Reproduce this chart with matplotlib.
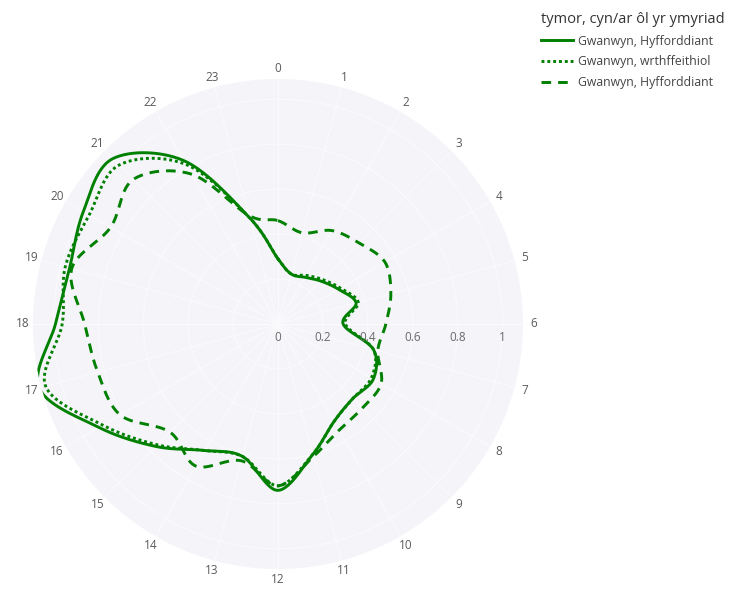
import numpy as np
import matplotlib.pyplot as plt

# hourly values per series (hour 0..23)
hours = list(range(24))
hour_labels = [str(h) for h in hours]
solid_vals = [0.29, 0.23, 0.24, 0.27, 0.31, 0.36, 0.29, 0.44, 0.49, 0.47, 0.50, 0.60,
              0.74, 0.61, 0.65, 0.77, 0.92, 1.10, 0.99, 0.96, 1.00, 1.04, 0.84, 0.49]
dotted_vals = [0.29, 0.23, 0.25, 0.28, 0.32, 0.37, 0.30, 0.44, 0.48, 0.47, 0.50, 0.60,
               0.72, 0.61, 0.65, 0.76, 0.90, 1.07, 0.96, 0.98, 0.97, 1.00, 0.82, 0.49]
dashed_vals = [0.46, 0.42, 0.48, 0.51, 0.55, 0.52, 0.48, 0.46, 0.53, 0.53, 0.545, 0.61,
               0.72, 0.63, 0.73, 0.68, 0.81, 0.83, 0.86, 0.95, 0.86, 0.91, 0.77, 0.50]
series_names = ['Gwanwyn, Hyfforddiant', 'Gwanwyn, wrthffeithiol', 'Gwanwyn, Hyfforddiant']
legend_title = 'tymor, cyn/ar ôl yr ymyriad'
radial_ticks = [0, 0.2, 0.4, 0.6, 0.8, 1]
radial_labels = ['0', '0.2', '0.4', '0.6', '0.8', '1']

plt.rcParams['font.family'] = ['Open Sans', 'DejaVu Sans']


# closed Catmull-Rom spline, done in cartesian space so the curve is smooth on screen
def smooth_closed(theta, r, n=30):
    x = r * np.sin(theta)
    y = r * np.cos(theta)
    pts = np.column_stack([x, y])
    m = len(pts)
    t = np.linspace(0, 1, n, endpoint=False)[:, None]
    out = []
    for i in range(m):
        p0, p1, p2, p3 = pts[(i - 1) % m], pts[i], pts[(i + 1) % m], pts[(i + 2) % m]
        seg = 0.5 * (2 * p1 + (-p0 + p2) * t + (2 * p0 - 5 * p1 + 4 * p2 - p3) * t ** 2
                     + (-p0 + 3 * p1 - 3 * p2 + p3) * t ** 3)
        out.append(seg)
    out.append(pts[:1])
    out = np.vstack(out)
    return np.arctan2(out[:, 0], out[:, 1]), np.hypot(out[:, 0], out[:, 1])


theta = np.deg2rad(np.array(hours) * 15.0)

fig = plt.figure(figsize=(7.46, 5.90), dpi=100)
ax = fig.add_axes([0.0442, 0.0356, 0.6568, 0.8305], projection='polar')
ax.set_theta_zero_location('N')
ax.set_theta_direction(-1)
ax.set_facecolor('#F4F4F9')
ax.set_rlim(0, 1.09)

styles = [
    dict(linestyle='-'),
    dict(linestyle=(0, (1.0, 1.0))),
    dict(linestyle=(0, (3.3, 2.4))),
]
for vals, name, st in zip([solid_vals, dotted_vals, dashed_vals], series_names, styles):
    th, rr = smooth_closed(theta, np.array(vals))
    ax.plot(th, rr, color='green', lw=2.1, label=name, **st)

# grid
ax.set_xticks(theta)
ax.set_xticklabels(hour_labels, fontsize=8.5, color='#5a5a5a')
ax.tick_params(axis='x', pad=-3)
ax.set_yticks(radial_ticks[1:])
ax.set_yticklabels([])
ax.grid(color='#FBFBFD', lw=0.8)
ax.spines['polar'].set_visible(False)

# radial labels sit just under the axis pointing east
for r, lab in zip(radial_ticks, radial_labels):
    ax.annotate(lab, xy=(np.pi / 2, r), xytext=(0, -10), textcoords='offset points',
                ha='center', va='center', fontsize=8.5, color='#6a6a6a')

leg = fig.legend(loc='upper left', bbox_to_anchor=(0.711, 0.998), frameon=False,
                 title=legend_title, fontsize=8.8, title_fontsize=10.5,
                 handlelength=2.6, handletextpad=0.4, labelspacing=0.62,
                 alignment='left')
leg.get_title().set_color('#333333')
for txt in leg.get_texts():
    txt.set_color('#444444')

fig.savefig('out.png', dpi=100)
